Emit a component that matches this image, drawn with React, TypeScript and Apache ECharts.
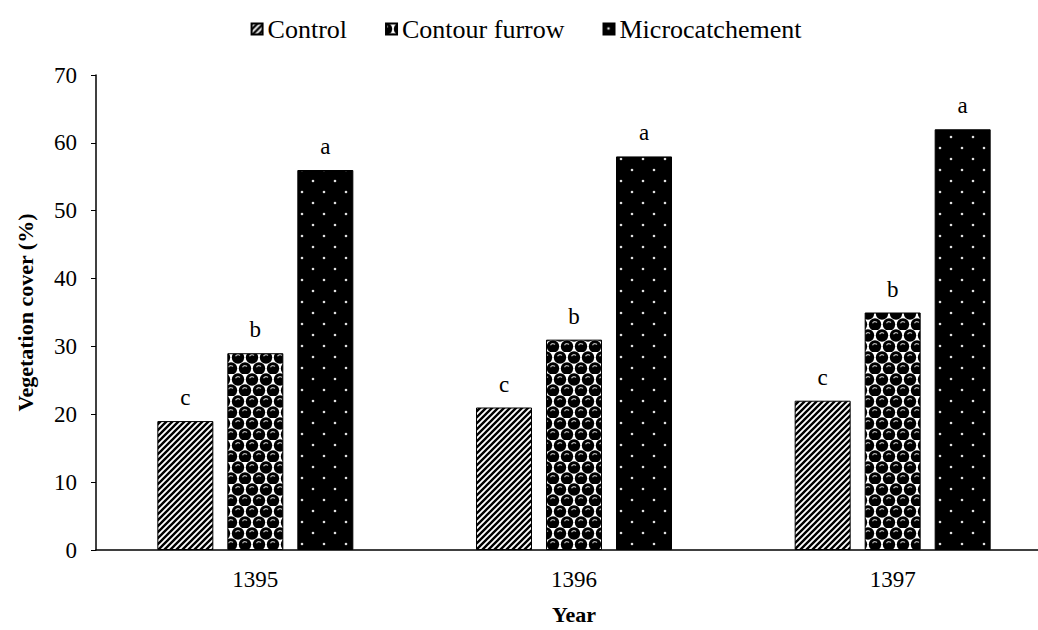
import React, { useEffect, useRef } from "react";
import * as echarts from "echarts";

const years = ["1395", "1396", "1397"];
const seriesNames = ["Control", "Contour furrow", "Microcatchement"];
const controlValues = [19, 21, 22];
const contourValues = [29, 31, 35];
const microValues = [56, 58, 62];
const controlLetters = ["c", "c", "c"];
const contourLetters = ["b", "b", "b"];
const microLetters = ["a", "a", "a"];

const FONT = "Liberation Serif";

function makeCanvas(w: number, h: number, draw: (ctx: CanvasRenderingContext2D) => void) {
  const c = document.createElement("canvas");
  c.width = w;
  c.height = h;
  const ctx = c.getContext("2d")!;
  draw(ctx);
  return c;
}

function stripePattern() {
  return makeCanvas(6, 6, (ctx) => {
    ctx.fillStyle = "#fff";
    ctx.fillRect(0, 0, 6, 6);
    ctx.strokeStyle = "#000";
    ctx.lineWidth = 2.4;
    ctx.beginPath();
    for (let k = -6; k <= 12; k += 6) {
      ctx.moveTo(k - 1, 7);
      ctx.lineTo(k + 7, -1);
    }
    ctx.stroke();
  });
}

function spherePattern() {
  return makeCanvas(14, 22, (ctx) => {
    ctx.fillStyle = "#fff";
    ctx.fillRect(0, 0, 14, 22);
    const centers = [
      [0, 5.5],
      [14, 5.5],
      [7, 16.5],
      [0, -5.5],
      [14, -5.5],
      [7, -16.5],
      [0, 27.5],
      [14, 27.5],
    ];
    ctx.fillStyle = "#000";
    for (const [cx, cy] of centers) {
      ctx.beginPath();
      ctx.arc(cx, cy, 6.2, 0, Math.PI * 2);
      ctx.fill();
    }
    ctx.strokeStyle = "#bbb";
    ctx.lineWidth = 1.2;
    for (const [cx, cy] of centers) {
      ctx.beginPath();
      ctx.arc(cx, cy, 2.8, Math.PI * 1.15, Math.PI * 1.75);
      ctx.stroke();
    }
  });
}

function dotPattern() {
  return makeCanvas(22, 22, (ctx) => {
    ctx.fillStyle = "#000";
    ctx.fillRect(0, 0, 22, 22);
    ctx.fillStyle = "#e0e0e0";
    const pts = [
      [5, 5],
      [16, 16],
    ];
    for (const [x, y] of pts) {
      ctx.beginPath();
      ctx.arc(x, y, 1.3, 0, Math.PI * 2);
      ctx.fill();
    }
  });
}

export default function App() {
  const ref = useRef<HTMLDivElement>(null);

  useEffect(() => {
    if (!ref.current) return;
    document.body.style.margin = "0";
    document.body.style.overflow = "hidden";
    document.documentElement.style.overflow = "hidden";
    const chart = echarts.init(ref.current, undefined, { renderer: "svg" });
    const fills = [
      { image: stripePattern(), repeat: "repeat" },
      { image: spherePattern(), repeat: "repeat" },
      { image: dotPattern(), repeat: "repeat" },
    ];
    const values = [controlValues, contourValues, microValues];
    const letters = [controlLetters, contourLetters, microLetters];

    chart.setOption({
      animation: false,
      backgroundColor: "#fff",
      textStyle: { fontFamily: FONT, color: "#000" },
      legend: {
        top: 11,
        left: "center",
        icon: "rect",
        itemWidth: 11,
        itemHeight: 11,
        itemGap: 38,
        textStyle: { fontFamily: FONT, fontSize: 26, color: "#000" },
        data: seriesNames,
      },
      grid: { left: 96, right: 0, top: 75, bottom: 74.5, containLabel: false },
      xAxis: {
        type: "category",
        data: years,
        axisLine: { show: true, lineStyle: { color: "#000", width: 1.5 } },
        axisTick: { show: false },
        axisLabel: { fontFamily: FONT, fontSize: 23, color: "#000", margin: 18 },
        name: "Year",
        nameLocation: "middle",
        nameGap: 53,
        nameTextStyle: { fontFamily: FONT, fontSize: 22, fontWeight: "bold", color: "#000" },
      },
      yAxis: {
        type: "value",
        min: 0,
        max: 70,
        interval: 10,
        splitLine: { show: false },
        axisLine: { show: true, lineStyle: { color: "#000", width: 1.5 } },
        axisTick: { show: true, length: 5, lineStyle: { color: "#000" } },
        axisLabel: { fontFamily: FONT, fontSize: 23, color: "#000", margin: 19 },
        name: "Vegetation cover (%)",
        nameLocation: "middle",
        nameGap: 60,
        nameTextStyle: { fontFamily: FONT, fontSize: 22, fontWeight: "bold", color: "#000" },
      },
      series: seriesNames.map((name, i) => ({
        name,
        type: "bar",
        data: values[i],
        barWidth: 56,
        barGap: "25%",
        itemStyle: { color: fills[i], borderColor: "#000", borderWidth: 1 },
        label: {
          show: true,
          position: "top",
          distance: 12,
          fontFamily: FONT,
          fontSize: 23,
          color: "#000",
          formatter: (p: any) => letters[i][p.dataIndex],
        },
      })),
    });
    return () => chart.dispose();
  }, []);

  return (
    <div style={{ position: "absolute", left: 0, top: 0, width: 1038, height: 630, overflow: "hidden" }}>
      <div ref={ref} style={{ width: 1052, height: 630 }} />
    </div>
  );
}
